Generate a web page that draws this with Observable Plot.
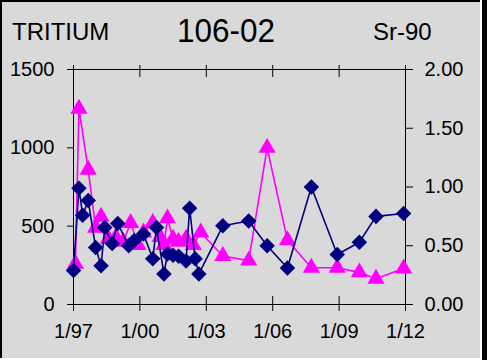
<!DOCTYPE html>
<html><head><meta charset="utf-8">
<script src="https://cdn.jsdelivr.net/npm/d3@7"></script>
<script src="https://cdn.jsdelivr.net/npm/@observablehq/plot@0.6"></script>
<style>
body{margin:0;background:#fff;font-family:"Liberation Sans",Arial,sans-serif;}
#card{position:absolute;left:0;top:0;width:480px;height:358px;background:#d9d9d9;box-sizing:border-box;border-top:2px solid #000;border-left:2px solid #000;}
#rbar{position:absolute;left:482px;top:0;width:5px;height:360px;background:#000;}
.t{position:absolute;color:#000;white-space:nowrap;line-height:1;}
#chart{position:absolute;left:0;top:0;}
</style></head>
<body>
<div id="card"></div>
<div id="rbar"></div>
<div id="chart"></div>
<div class="t" id="tl" style="left:12px;top:20px;font-size:24px;">TRITIUM</div>
<div class="t" id="tc" style="left:177px;top:13px;font-size:34px;transform:scaleX(0.925);transform-origin:left top;">106-02</div>
<div class="t" id="tr" style="left:373px;top:20px;font-size:24px;">Sr-90</div>
<script>
// Tritium (left axis)
const tritiumDates = ["1997-02","1997-04","1997-09","1998-01","1998-04","1998-08","1998-12","1999-04","1999-08","1999-12","2000-03","2000-08","2000-12","2001-02","2001-04","2001-07","2001-10","2002-02","2002-06","2002-10","2003-10","2004-12","2005-10","2006-09","2007-10","2008-12","2009-12","2010-09","2011-12"];
const tritiumValues = [260,1250,860,490,560,420,430,400,520,380,460,520,430,380,550,420,400,420,380,460,310,280,1000,410,235,235,205,165,230];
// Sr-90 (right axis)
const srDates = ["1997-01","1997-04","1997-06","1997-09","1998-01","1998-04","1998-06","1998-10","1999-01","1999-07","1999-10","2000-03","2000-08","2000-10","2001-02","2001-04","2001-07","2001-10","2002-02","2002-04","2002-07","2002-09","2003-10","2004-12","2005-10","2006-09","2007-10","2008-12","2009-12","2010-09","2011-12"];
const srValues = [0.29,0.99,0.76,0.885,0.485,0.33,0.655,0.52,0.69,0.50,0.545,0.60,0.39,0.655,0.26,0.43,0.42,0.41,0.37,0.82,0.39,0.26,0.67,0.71,0.50,0.31,1.00,0.425,0.53,0.75,0.775];
// Axes
const xTickYears = [1997,2000,2003,2006,2009,2012];
const leftTicks = [0,500,1000,1500];
const rightTicks = [0,0.5,1.0,1.5,2.0];
const rightMax = 2.0, leftMax = 1500;
const k = leftMax / rightMax;

const parse = d3.utcParse("%Y-%m");
const tritium = tritiumDates.map((d,i)=>({date: parse(d), value: tritiumValues[i]}));
const sr = srDates.map((d,i)=>({date: parse(d), value: srValues[i]}));
const xTicks = xTickYears.map(y => new Date(Date.UTC(y,0,1)));
const fmtX = d => `1/${String(d.getUTCFullYear()%100).padStart(2,"0")}`;

const chart = Plot.plot({
  width: 480, height: 358,
  marginLeft: 73, marginRight: 75, marginTop: 69, marginBottom: 54,
  style: {background: "transparent", color: "#000", fontSize: 20, fontFamily: "Liberation Sans, Arial, sans-serif", overflow: "visible"},
  x: {type: "utc", domain: [xTicks[0], xTicks[xTicks.length-1]]},
  y: {domain: [0, leftMax]},
  marks: [
    Plot.frame({stroke: "#000"}),
    Plot.axisY(leftTicks, {anchor: "left", tickSize: 6, tickPadding: 13, fontSize: 20, label: null, tickFormat: d => String(d)}),
    Plot.axisY(rightTicks.map(v => v*k), {anchor: "right", tickSize: 7, tickPadding: 12, fontSize: 20, label: null, tickFormat: d => (d/k).toFixed(2)}),
    Plot.axisX(xTicks, {anchor: "bottom", tickSize: 7, tickPadding: 12, fontSize: 20, label: null, tickFormat: fmtX}),
    Plot.axisX(xTicks, {anchor: "bottom", tickSize: -8, tickFormat: () => "", label: null}),
    Plot.axisX(xTicks, {anchor: "top", tickSize: 5, tickFormat: () => "", label: null}),
    Plot.axisX(xTicks, {anchor: "top", tickSize: -7, tickFormat: () => "", label: null}),
    Plot.line(tritium, {x: "date", y: "value", stroke: "#ff00ff", strokeWidth: 1.6}),
    Plot.dot(tritium, {x: "date", y: "value", symbol: "triangle", fill: "#ff00ff", r: 6.4}),
    Plot.line(sr, {x: "date", y: d => d.value*k, stroke: "#000080", strokeWidth: 1.6}),
    Plot.dot(sr, {x: "date", y: d => d.value*k, symbol: "diamond2", fill: "#000080", r: 7})
  ]
});
document.getElementById("chart").appendChild(chart);
</script>
</body></html>
